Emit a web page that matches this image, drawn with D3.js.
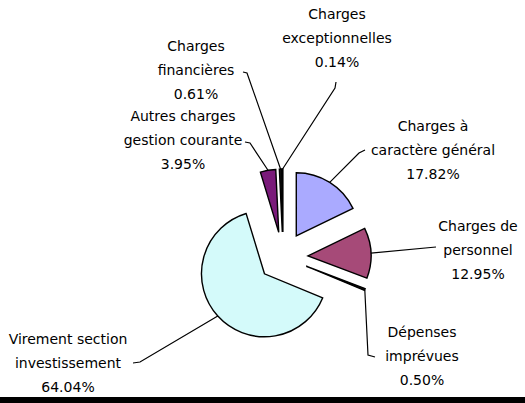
<!DOCTYPE html>
<head>
  <meta charset="utf-8">
  <script src="https://d3js.org/d3.v7.min.js"></script>
  <style>
    body { margin:0; background:#fff; }
    text { font-family: "Comic Sans MS", "DejaVu Sans", sans-serif; font-size: 14px; fill: #000; }
  </style>
</head>
<body>
<script>

/* Data */
/* ==== */

var categories = [
  "Charges à caractère général",
  "Charges de personnel",
  "Dépenses imprévues",
  "Virement section investissement",
  "Autres charges gestion courante",
  "Charges financières",
  "Charges exceptionnelles"
];
var values = [17.82, 12.95, 0.50, 64.04, 3.95, 0.61, 0.14];
var labelLines = [
  ["Charges à", "caractère général"],
  ["Charges de", "personnel"],
  ["Dépenses", "imprévues"],
  ["Virement section", "investissement"],
  ["Autres charges", "gestion courante"],
  ["Charges", "financières"],
  ["Charges", "exceptionnelles"]
];

/* Layout */
/* ====== */

var width = 525, height = 403,
    cx = 283, cy = 257,
    radius = 63,
    explode = 25,
    lineGap = 24;

// the three tiny slices only show their outline, so they read as black
var colors = ["#aaaaff", "#a64a78", "#111", "#d4fafa", "#7a1a7a", "#111", "#111"];

// label block: x centre, y of first line; elbow points of the leader line
var labelPos = [
  {x: 433, y: 127, elbow: [[359, 153], [365, 150]]},
  {x: 478, y: 227, elbow: [[436, 247]]},
  {x: 422, y: 333, elbow: [[368, 355], [375, 357]]},
  {x: 68,  y: 340, elbow: [[140, 362], [133, 363]]},
  {x: 183, y: 117, elbow: [[250, 143], [245, 142]]},
  {x: 196, y: 47,  elbow: [[247, 73], [243, 72]]},
  {x: 337, y: 15,  elbow: [[335, 88], [336, 82]]}
];

var svg = d3.select('body')
  .append('svg')
    .attr('width', width)
    .attr('height', height);

var pie = d3.pie().sort(null).value(function(d) { return d; });
var arcs = pie(values);

var arc = d3.arc().innerRadius(0).outerRadius(radius);

var g = svg.append('g')
    .attr('transform', 'translate(' + cx + ',' + cy + ')');

function mid(d) { return (d.startAngle + d.endAngle) / 2; }

// slices
g.selectAll('.slice')
    .data(arcs)
    .enter()
  .append('path')
    .classed('slice', true)
    .attr('transform', function(d) {
      var a = mid(d);
      return 'translate(' + (explode * Math.sin(a)) + ',' + (-explode * Math.cos(a)) + ')';
    })
    .attr('d', arc)
    .attr('fill', function(d, i) { return colors[i]; })
    .attr('stroke', '#000')
    .attr('stroke-width', 1.4)
    .attr('stroke-linejoin', 'miter');

// leader lines
var line = d3.line();

svg.selectAll('.leader')
    .data(arcs)
    .enter()
  .append('path')
    .classed('leader', true)
    .attr('d', function(d, i) {
      var a = mid(d), r = explode + radius;
      var start = [cx + r * Math.sin(a), cy - r * Math.cos(a)];
      return line([start].concat(labelPos[i].elbow));
    })
    .attr('fill', 'none')
    .attr('stroke', '#000')
    .attr('stroke-width', 1.2);

// labels
var labels = svg.selectAll('.label')
    .data(arcs)
    .enter()
  .append('text')
    .classed('label', true)
    .attr('text-anchor', 'middle')
    .attr('dominant-baseline', 'middle');

labels.each(function(d, i) {
  var t = d3.select(this);
  var rows = labelLines[i].concat([values[i].toFixed(2) + '%']);
  rows.forEach(function(s, k) {
    t.append('tspan')
      .attr('x', labelPos[i].x)
      .attr('y', labelPos[i].y + k * lineGap)
      .text(s);
  });
});

// bottom border
svg.append('rect')
    .attr('x', 0)
    .attr('y', 397)
    .attr('width', width)
    .attr('height', 6)
    .attr('fill', '#000');

</script>
</body>
